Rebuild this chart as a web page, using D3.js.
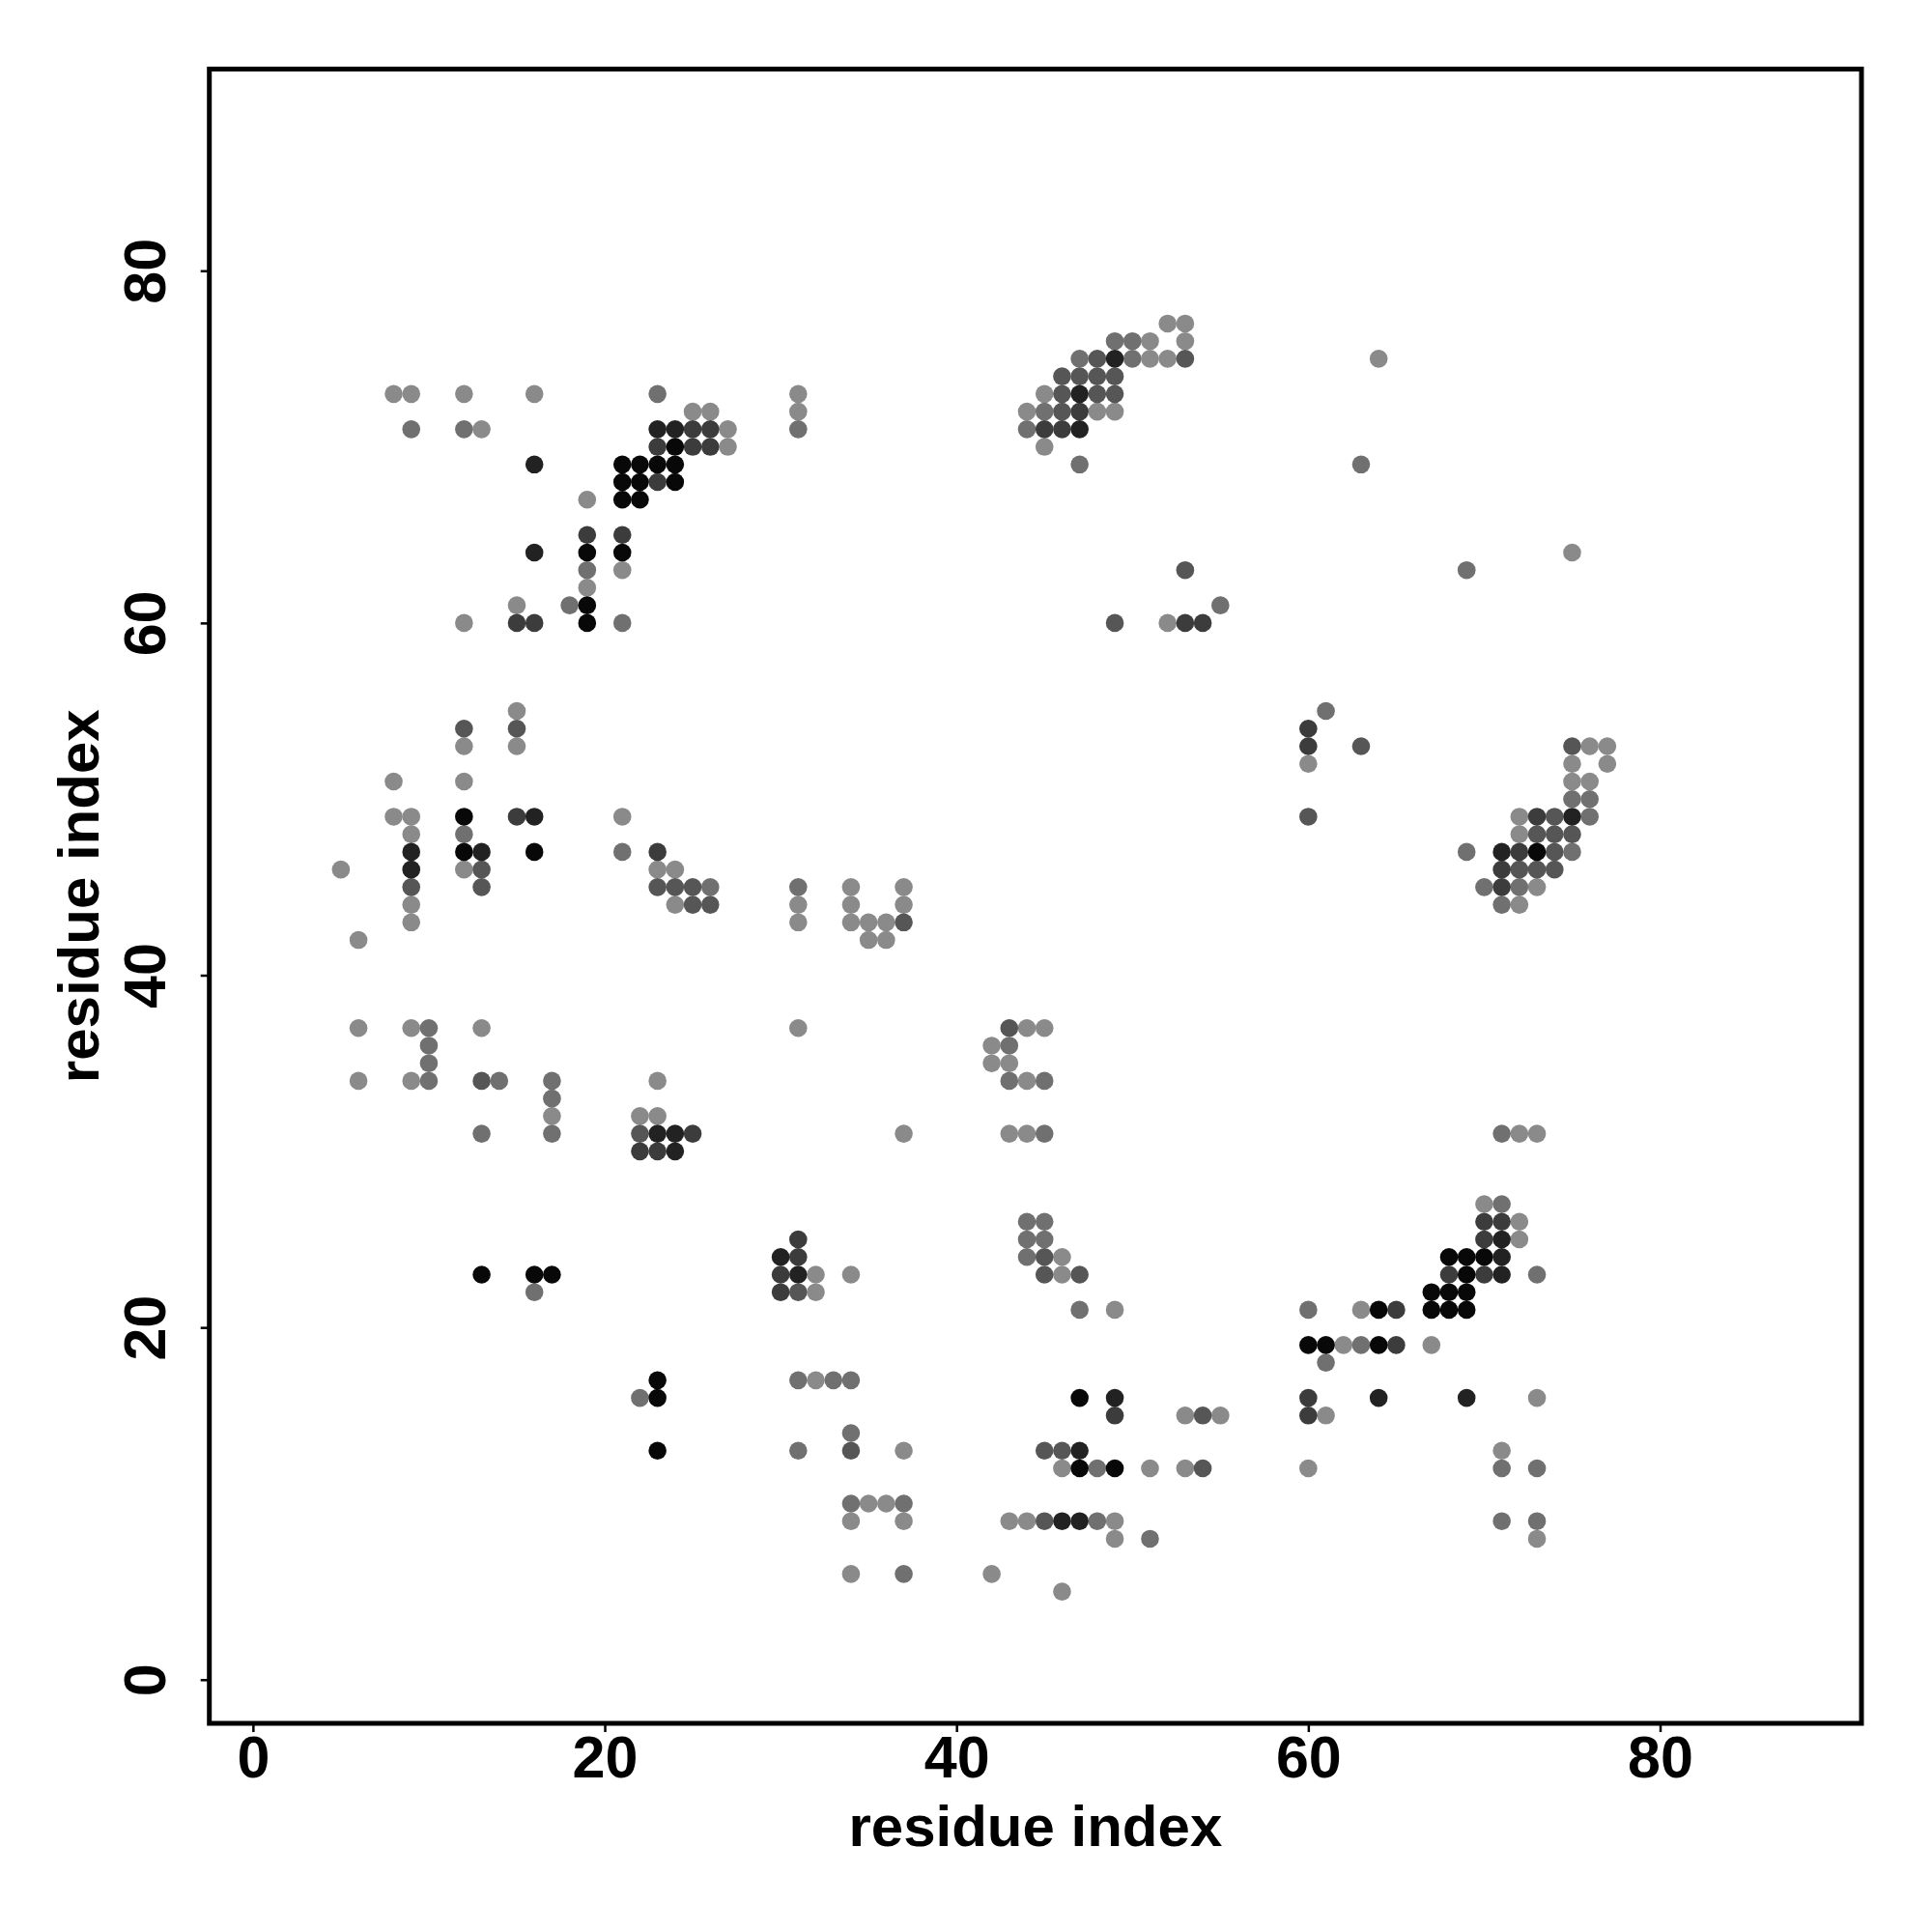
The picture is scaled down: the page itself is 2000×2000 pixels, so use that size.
<html>
    <head>
        <meta charset="utf-8">
        <title>Residue Contact Map</title>
        <style type="text/css">
            body { margin: 0; background: #fff; }
            text { font-family: "Liberation Sans", Arial, Helvetica, sans-serif; font-weight: bold; }
        </style>
        <script src="https://d3js.org/d3.v7.min.js"></script>
    </head>
    <body>
    	<svg width="2000" height="2000"></svg>
    	<script>
		// contact rows: residue index j, the partner residues i, and the shade level (1 light .. 6 black)
		var rowJ = [77,76,75,74,73,72,71,70,69,68,67,65,64,63,62,61,60,55,54,53,52,51,50,49,48,47,46,45,44,43,42,
		            37,36,35,34,33,32,31,30,27,26,25,24,23,22,21,19,18,17,16,15,14,13,12,10,9,8,6,5];
		var rowI = [
			[52,53], [49,50,51,53], [47,48,49,50,51,52,53,64], [46,47,48,49],
			[8,9,12,16,23,31,45,46,47,48,49], [25,26,31,44,45,46,47,48,49],
			[9,12,13,23,24,25,26,27,31,44,45,46,47], [23,24,25,26,27,45],
			[16,21,22,23,24,47,63], [21,22,23,24], [19,21,22], [19,21], [16,19,21,75],
			[19,21,53,69], [19], [15,18,19,55], [12,15,16,19,21,49,52,53,54],
			[15,61], [12,15,60], [12,15,60,63,75,76,77], [60,75,77], [8,12,75,76], [75,76],
			[8,9,12,15,16,21,60,72,73,74,75,76], [9,12,72,73,74,75],
			[9,12,13,16,21,23,69,71,72,73,74,75], [5,9,12,13,23,24,71,72,73,74],
			[9,13,23,24,25,26,31,34,37,70,71,72,73], [9,24,25,26,31,34,37,71,72],
			[9,31,34,35,36,37], [6,35,36],
			[6,9,10,13,31,43,44,45], [10,42,43], [10,42,43], [6,9,10,13,14,17,23,43,44,45],
			[17], [17,22,23], [13,17,22,23,24,25,37,43,44,45,71,72,73], [22,23,24],
			[70,71], [44,45,70,71,72], [31,44,45,70,71,72], [30,31,44,45,46,68,69,70,71],
			[13,16,17,30,31,32,34,45,46,47,68,69,70,71,73], [16,30,31,32,67,68,69],
			[47,49,60,63,64,65,67,68,69], [60,61,62,63,64,65,67], [61], [23,31,32,33,34],
			[22,23,47,49,60,64,69,73], [49,53,54,55,60,61], [34], [23,31,34,37,45,46,47,71],
			[46,47,48,49,51,53,54,60,71,73], [34,35,36,37], [34,37,43,44,45,46,47,48,49,71,73],
			[49,51,73], [34,37,42], [46]
		];
		var rowLevel = [
			[1,1], [2,2,1,1], [2,3,5,2,1,1,3,1], [3,3,3,3],
			[1,1,1,1,2,1,1,3,5,3,3], [1,1,1,1,2,3,4,1,1],
			[2,2,1,5,5,4,4,1,2,2,4,4,5], [4,6,4,4,1,1],
			[5,6,6,6,6,2,2], [6,6,4,6], [1,6,6], [4,4], [5,6,6,1],
			[2,1,3,2], [1], [1,2,6,2], [1,4,4,6,2,3,1,4,4],
			[1,2], [3,3,4], [1,1,4,3,3,1,1], [1,1,1], [1,1,1,1], [2,2],
			[1,1,6,4,5,1,3,1,4,3,5,2], [1,2,1,3,3,3],
			[5,6,5,6,2,4,2,5,4,6,3,2], [1,5,1,3,1,1,4,3,3,3],
			[3,3,3,3,3,2,2,1,1,2,4,2,1], [1,1,3,3,1,1,1,2,1],
			[1,1,1,1,1,3], [1,1,1],
			[1,1,2,1,1,3,1,1], [2,1,2], [2,1,1], [1,1,2,3,2,2,1,2,1,2],
			[2], [1,1,1], [2,2,3,5,5,4,1,1,1,2,2,1,1], [4,4,5],
			[1,2], [2,2,4,4,1], [4,2,2,4,5,1], [5,4,2,3,1,6,6,6,5],
			[6,6,6,4,5,1,1,3,1,3,4,6,4,5,2], [2,4,3,1,6,6,6],
			[2,1,2,1,6,4,6,6,6], [6,6,1,2,6,4,1], [2], [6,2,1,2,2],
			[2,6,6,5,4,5,5,1], [4,1,3,1,4,1], [2], [6,2,3,1,3,3,5,1],
			[1,6,2,6,1,1,3,1,2,2], [2,1,1,2], [1,1,1,1,3,5,5,2,1,2,2],
			[1,2,1], [1,2,1], [1]
		];
		var tickValues = [0,20,40,60,80];
		var axisTitle = "residue index";

		var contacts = [];
		rowJ.forEach(function(j,r){
			rowI[r].forEach(function(i,k){
				contacts.push({i:i, j:j, level:rowLevel[r][k]});
			});
		});
		contacts.sort((a,b)=>a.level-b.level);

		var svg = d3.select("svg"),
		    box = {left: 216.7, right: 1927, top: 71.5, bottom: 1784};

		var xScale = d3.scaleLinear().domain([-2.48,91.45]).range([box.left,box.right]),
		    yScale = d3.scaleLinear().domain([-2.48,91.45]).range([box.bottom,box.top]),
		    shade = d3.scaleLinear().domain([1,6]).range(["#8a8a8a","#080808"]);

		svg.append("rect")
			.attr("width",2000).attr("height",2000)
			.attr("fill","#fff");

		svg.append("g")
			.selectAll("circle")
			.data(contacts)
			.enter()
			.append("circle")
				.attr("cx",d=>xScale(d.i))
				.attr("cy",d=>yScale(d.j))
				.attr("r",9.3)
				.attr("fill",d=>shade(d.level));

		var xAxis = svg.append("g")
			.attr("transform",`translate(0,${box.bottom})`)
			.call(d3.axisBottom(xScale).tickValues(tickValues).tickSize(9));
		xAxis.select(".domain").remove();
		xAxis.selectAll("line").attr("stroke-width",2.5);
		xAxis.selectAll("text")
			.attr("y",56)
			.attr("dy",null)
			.style("font-size","61px")
			.attr("fill","#000");

		var yAxis = svg.append("g")
			.attr("transform",`translate(${box.left},0)`)
			.call(d3.axisLeft(yScale).tickValues(tickValues).tickSize(9));
		yAxis.select(".domain").remove();
		yAxis.selectAll("line").attr("stroke-width",2.5);
		yAxis.selectAll("text")
			.attr("x",null)
			.attr("dy",null)
			.attr("text-anchor","middle")
			.attr("transform",`translate(${171-box.left},0) rotate(-90)`)
			.style("font-size","61px")
			.attr("fill","#000");

		svg.append("rect")
			.attr("x",box.left).attr("y",box.top)
			.attr("width",box.right-box.left)
			.attr("height",box.bottom-box.top)
			.attr("fill","none")
			.attr("stroke","#000")
			.attr("stroke-width",5);

		svg.append("text")
			.text(axisTitle)
			.attr("x",(box.left+box.right)/2)
			.attr("y",1911)
			.attr("text-anchor","middle")
			.style("font-size","60px");

		svg.append("text")
			.text(axisTitle)
			.attr("transform",`translate(102,${(box.top+box.bottom)/2}) rotate(-90)`)
			.attr("text-anchor","middle")
			.style("font-size","60px");
    	</script>
  </body>
</html>
